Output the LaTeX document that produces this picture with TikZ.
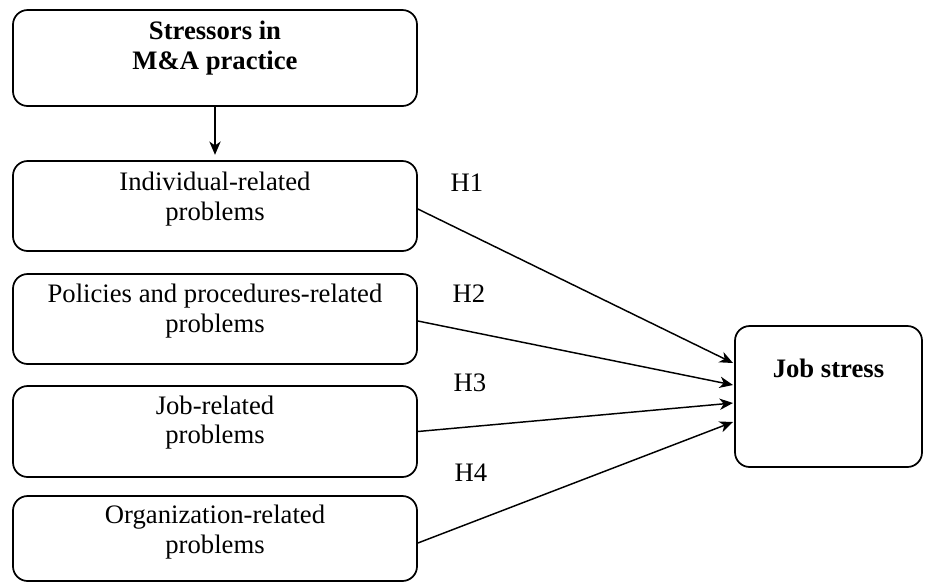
\documentclass[tikz,border=0pt]{standalone}
\usepackage{fontspec}
\setmainfont{Liberation Serif}
\usetikzlibrary{arrows.meta,positioning}

\begin{document}
\begin{tikzpicture}[x=0.75pt, y=-0.75pt,
		every node/.style={font=\fontsize{20}{22}\selectfont},
		box/.style={draw, rounded corners=11pt, line width=1.3pt, inner sep=0pt,
			minimum width=303pt, minimum height=67.5pt},
		txt/.style={align=center, inner sep=0pt},
		arr/.style={-{Stealth[length=10pt, width=8.5pt, inset=3pt]}, line width=1.1pt}]
		\useasboundingbox (0,0) rectangle (930,583);
		
		% boxes
		\node[box, minimum height=72pt] (top) at (215,58) {};
		\node[box] (ind) at (215,206) {};
		\node[box] (pol) at (215,319) {};
		\node[box, minimum height=68.25pt] (job) at (215,431.5) {};
		\node[box, minimum height=63.75pt] (org) at (215,538.5) {};
		\node[box, minimum width=140.25pt, minimum height=105.75pt] (js) at (828.5,396.5) {};
		
		% texts
		\node[txt, font=\fontsize{20}{22.5}\selectfont\bfseries] (top-t) at (215,48) {Stressors in\\M\&A practice};
		\node[txt] (ind-t) at (215,199) {Individual-related\\problems};
		\node[txt] (pol-t) at (215,311) {Policies and procedures-related\\problems};
		\node[txt] (job-t) at (215,422.5) {Job-related\\problems};
		\node[txt] (org-t) at (215,532) {Organization-related\\problems};
		\node[txt, font=\fontsize{20}{22}\selectfont\bfseries] (js-t) at (828.5,368) {Job stress};
		
		% hypotheses
		\node (h1) at (467,183) {H1};
		\node (h2) at (469,294) {H2};
		\node (h3) at (470,383) {H3};
		\node (h4) at (471,473) {H4};
		
		\coordinate (e1) at (733,363);
		\coordinate (e2) at (733,385);
		\coordinate (e3) at (733,403);
		\coordinate (e4) at (733,422);
		
		\draw[arr, shorten >=4pt] (top) -- (ind);
		\draw[arr] (ind.east) ++(0,3) coordinate (s1) (s1) -- (e1);
		\draw[arr] (pol.east) ++(0,2) coordinate (s2) (s2) -- (e2);
		\draw[arr] (job.east) -- (e3);
		\draw[arr] (org.east) ++(0,4.5) coordinate (s4) (s4) -- (e4);
	\end{tikzpicture}
\end{document}
